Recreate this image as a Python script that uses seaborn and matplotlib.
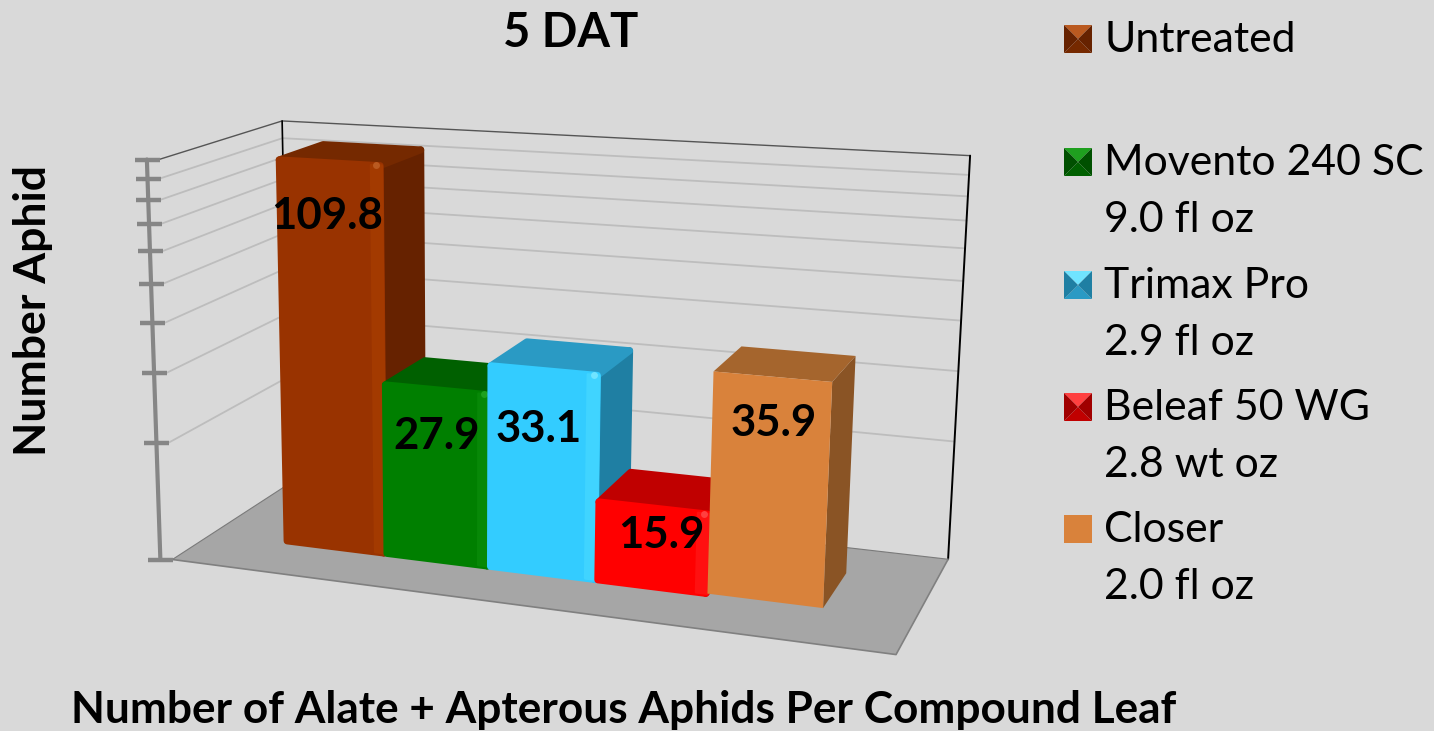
import numpy as np
import matplotlib
matplotlib.use("Agg")
import matplotlib.pyplot as plt
import matplotlib.transforms as mtransforms
from matplotlib.patches import Polygon
import seaborn as sns

# --- DATA ---
treatments = ["Untreated", "Movento 240 SC", "Trimax Pro", "Beleaf 50 WG", "Closer"]
rates = ["", "9.0 fl oz", "2.9 fl oz", "2.8 wt oz", "2.0 fl oz"]
aphids = [109.8, 27.9, 33.1, 15.9, 35.9]
y_ticks = [10, 20, 30, 40, 50, 60, 70, 80, 90, 100]

# colours per bar: front, top, side, bevel highlight, corner glint
front_colors = ["#993300", "#007F00", "#33CCFF", "#FF0000", "#D9823B"]
top_colors = ["#752900", "#006000", "#2A9AC4", "#C00000", "#A5652D"]
side_colors = ["#662200", "#005000", "#1F7FA3", "#A00000", "#8A5425"]
bevel_colors = ["#A33A00", "#078807", "#40D4FF", "#FF1010", "#D9823B"]
glint_colors = ["#BA5A20", "#1FA01F", "#70E4FF", "#FF4040", "#D9823B"]
bevelled = [True, True, True, True, False]

# where the labels sit in the picture (pixels)
label_pos = [(327, 216), (437, 436), (539, 429), (661, 535), (774, 423)]
legend_y = [37, 160, 283, 405, 527]

W, H = 1434, 731
BG = "#D9D9D9"
Z_FRONT, Z_BACK = 0.34, 0.72
BAR_SCALE = 0.975

# --- CAMERA: fit a projection from the corners of the chart box ---
box_world = [(0, 0, 0), (1, 0, 0), (1, 0, 1), (0, 0, 1), (0, 1, 0), (0, 1, 1), (1, 1, 1)]
box_pixel = [(175, 558), (894, 659), (950, 554), (287, 486), (158, 157), (283, 122), (970, 157)]
rows, rhs = [], []
for (X, Y, Z), (px, py) in zip(box_world, box_pixel):
    rows.append([X, Y, Z, 1, 0, 0, 0, 0, -px * X, -px * Y, -px * Z])
    rhs.append(px)
    rows.append([0, 0, 0, 0, X, Y, Z, 1, -py * X, -py * Y, -py * Z])
    rhs.append(py)
cam = np.append(np.linalg.lstsq(np.array(rows, float), np.array(rhs, float), rcond=None)[0], 1).reshape(3, 4)


def to_pixels(u, v, z):
    pts = np.column_stack([u, v, np.full_like(u, z, dtype=float), np.ones_like(u)])
    out = pts @ cam.T
    return out[:, 0] / out[:, 2], H - out[:, 1] / out[:, 2]


sns.set_theme(style="white")
plt.rcParams["font.family"] = ["Lato", "DejaVu Sans"]
plt.rcParams["text.color"] = "black"

fig, ax = plt.subplots(figsize=(W / 100, H / 100), dpi=100)
fig.patch.set_facecolor(BG)
ax.set_position([0, 0, 1, 1])

sns.barplot(x=treatments, y=aphids, hue=treatments, palette=front_colors, width=1,
            saturation=1, legend=False, ax=ax)
ax.set_yscale("log")
ax.set_ylim(10, 100)
ax.set_xlim(-1.23, 5.27)
ax.set_axis_off()
bars = list(ax.patches)


class Project(mtransforms.Transform):
    # data coordinates -> picture, at a fixed depth of the chart box
    input_dims = 2
    output_dims = 2

    def __init__(self, z):
        super().__init__()
        self.z = z

    def transform_non_affine(self, values):
        frac = (ax.transScale + ax.transLimits).transform(values)
        x, y = to_pixels(frac[:, 0], np.clip(frac[:, 1], 0, 1) * BAR_SCALE, self.z)
        return np.column_stack([x, y])


def at(x, y, z):
    return Project(z).transform_non_affine(np.array([[x, y]], float))[0]


def box_px(u, v, z):
    x, y = to_pixels(np.array([u], float), np.array([v], float), z)
    return x[0], y[0]


identity = mtransforms.IdentityTransform()


def flip(points):
    return [(x, H - y) for x, y in points]


# --- WALLS AND FLOOR ---
floor = [box_px(0, 0, 0), box_px(1, 0, 0), box_px(1, 0, 1), box_px(0, 0, 1)]
ax.add_patch(Polygon(floor, closed=True, transform=identity, facecolor="#A6A6A6", edgecolor="none", zorder=2))
ax.plot(*zip(floor[0], floor[1], floor[2]), transform=identity, color="#808080", lw=1.2, zorder=2.1)
ax.plot(*zip(floor[0], floor[3], floor[2]), transform=identity, color="#7A7A7A", lw=0.8, zorder=2.1)

for tick in y_ticks:
    v = np.log10(tick / 10)
    if v == 0:
        continue
    c = "#555555" if tick == 100 else "#BDBDBD"
    ax.plot(*zip(box_px(0, v, 0), box_px(0, v, 1), box_px(1, v, 1)), transform=identity,
            color=c, lw=1.0 if tick == 100 else 1.3, zorder=1)
ax.plot(*zip(box_px(0, 0, 1), box_px(0, 1, 1)), transform=identity, color="black", lw=1.2, zorder=1.5)
ax.plot(*zip(box_px(1, 0, 1), box_px(1, 1, 1)), transform=identity, color="black", lw=1.4, zorder=1.5)

# axis with its tick marks, standing a little left of the box corner
axis_x, axis_y = [], []
for tick in y_ticks:
    v = np.log10(tick / 10)
    x, y = box_px(0, v, 0)
    axis_x.append(x - 12)
    axis_y.append(y)
    ax.plot([x - 24, x + 1], [y, y], transform=identity, color="#868686", lw=3.2, zorder=3, solid_capstyle="butt")
ax.plot(axis_x, axis_y, transform=identity, color="#868686", lw=3, zorder=3)

# --- BARS ---
for i, bar in enumerate(bars):
    x0, w, h = bar.get_x(), bar.get_width(), bar.get_height()
    zo = 4 + i
    lw = 5 if bevelled[i] else 0
    inset = 0.015 if bevelled[i] else 0
    style = dict(closed=True, transform=identity, linewidth=lw, joinstyle="round")

    top = [at(x0 + inset, h, Z_FRONT), at(x0 + w - inset, h, Z_FRONT), at(x0 + w - inset, h, Z_BACK), at(x0 + inset, h, Z_BACK)]
    side = [at(x0 + w - inset, 0, Z_FRONT), at(x0 + w - inset, h, Z_FRONT), at(x0 + w - inset, h, Z_BACK), at(x0 + w - inset, 0, Z_BACK)]
    ax.add_patch(Polygon(side, facecolor=side_colors[i], edgecolor=side_colors[i], zorder=zo, **style))
    ax.add_patch(Polygon(top, facecolor=top_colors[i], edgecolor=top_colors[i], zorder=zo + 0.1, **style))

    bar.set_x(x0 + inset)
    bar.set_width(w - 2 * inset)
    bar.set_transform(Project(Z_FRONT))
    bar.set_clip_on(False)
    bar.set_zorder(zo + 0.2)
    bar.set_edgecolor(front_colors[i])
    bar.set_linewidth(lw)
    bar.set_joinstyle("round")

    if bevelled[i]:
        strip = 0.1 * w
        bevel = [at(x0 + w - strip, 0, Z_FRONT), at(x0 + w, 0, Z_FRONT), at(x0 + w, h, Z_FRONT), at(x0 + w - strip, h, Z_FRONT)]
        ax.add_patch(Polygon(bevel, closed=True, transform=identity, facecolor=bevel_colors[i],
                             edgecolor=bevel_colors[i], linewidth=2, joinstyle="round", zorder=zo + 0.3))
        gx, gy = at(x0 + w - strip / 2, h, Z_FRONT)
        ax.plot([gx], [gy], "o", transform=identity, color=glint_colors[i], ms=5, mew=0, zorder=zo + 0.4)

    lx, ly = label_pos[i]
    ax.text(lx, H - ly, f"{aphids[i]}", transform=identity, ha="center", va="center",
            fontsize=31.5, fontweight="bold", color="black", zorder=20)

# --- LEGEND ---
for i, name in enumerate(treatments):
    y = legend_y[i]
    x0, x1, y0, y1 = 1064, 1092, y - 12, y + 16
    cx, cy = (x0 + x1) / 2, (y0 + y1) / 2
    if bevelled[i]:
        tris = [([(x0, y0), (x1, y0), (cx, cy)], glint_colors[i]),
                ([(x0, y1), (x1, y1), (cx, cy)], top_colors[i]),
                ([(x0, y0), (x0, y1), (cx, cy)], side_colors[i]),
                ([(x1, y0), (x1, y1), (cx, cy)], side_colors[i])]
    else:
        tris = [([(x0, y0), (x1, y0), (x1, y1), (x0, y1)], front_colors[i])]
    for pts, col in tris:
        ax.add_patch(Polygon(flip(pts), closed=True, transform=identity, facecolor=col, edgecolor="none", zorder=5))
    ax.text(1104, H - y - 3, name, transform=identity, ha="left", va="center", fontsize=30.8, color="black")
    if rates[i]:
        ax.text(1104, H - y - 60, rates[i], transform=identity, ha="left", va="center", fontsize=30.8, color="black")

# --- TITLES ---
ax.text(571, H - 33, "5 DAT", transform=identity, ha="center", va="center", fontsize=33.8, fontweight="bold", color="black")
ax.text(33, H - 310, "Number Aphid", transform=identity, ha="center", va="center", rotation=90,
        fontsize=32, fontweight="bold", color="black")
ax.text(624, H - 710, "Number of Alate + Apterous Aphids Per Compound Leaf", transform=identity,
        ha="center", va="center", fontsize=31.8, fontweight="bold", color="black")

fig.savefig("out.png", dpi=100, facecolor=BG)
